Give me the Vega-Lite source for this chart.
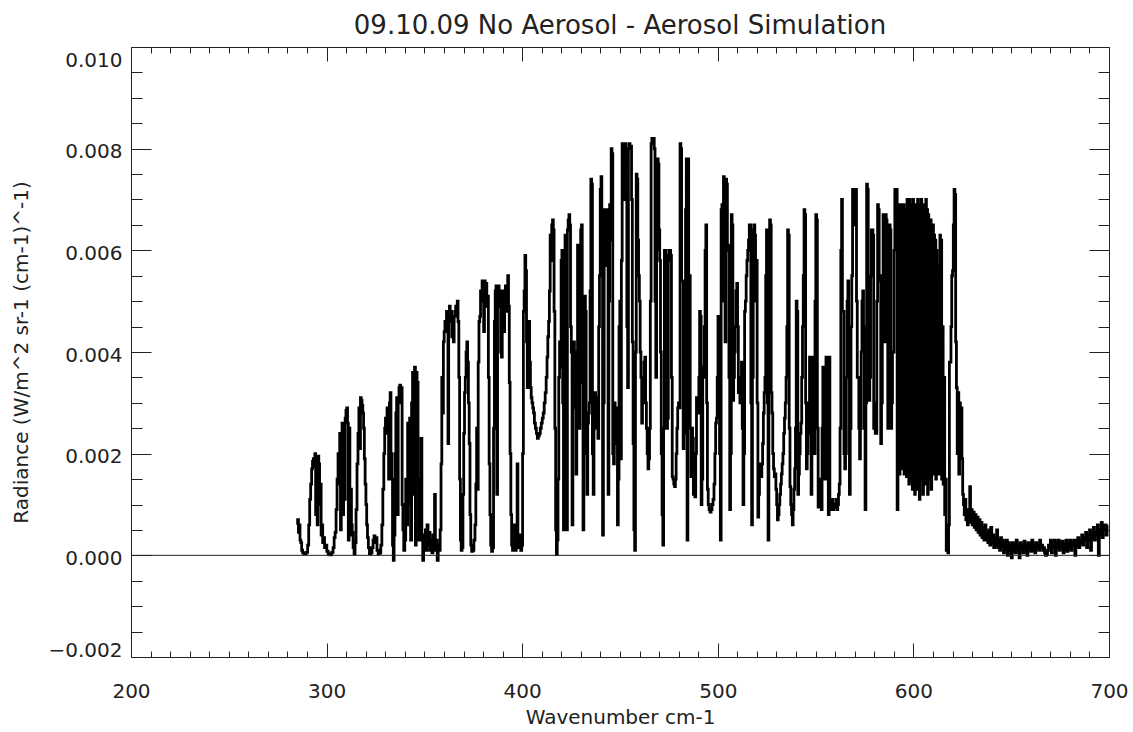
{
"$schema": "https://vega.github.io/schema/vega-lite/v6.json",
"width": 978, "height": 610,
"autosize": "none",
"padding": {"left": 131, "top": 47, "right": 24, "bottom": 75},
"background": "white",
"title": {"text": "09.10.09 No Aerosol - Aerosol Simulation", "fontSize": 26, "font": "DejaVu Sans", "fontWeight": "normal", "color": "#222", "offset": 8, "frame": "group", "anchor": "middle"},
"config": {
 "view": {"stroke": "#222", "strokeWidth": 1},
 "axis": {"grid": false, "domain": false, "labelFont": "DejaVu Sans", "titleFont": "DejaVu Sans", "labelFontSize": 20, "titleFontSize": 20, "titleFontWeight": "normal", "labelColor": "#222", "titleColor": "#222", "tickColor": "#222", "tickWidth": 1}
},
"datasets": {"spec": [
{"wn":285.0,"rad":0.0006},{"wn":285.4,"rad":0.0007},{"wn":285.8,"rad":0.00045},{"wn":286.2,"rad":0.0006},{"wn":286.6,"rad":0.0003},{"wn":287.0,"rad":0.00025},{"wn":287.5,"rad":0.0001},{"wn":288.0,"rad":0.00005},{"wn":289.0,"rad":0.00003},{"wn":290.0,"rad":0.00006},{"wn":290.6,"rad":0.0002},{"wn":291.1,"rad":0.0006},{"wn":291.6,"rad":0.0011},{"wn":292.1,"rad":0.0014},{"wn":292.6,"rad":0.0017},{"wn":293.0,"rad":0.00185},{"wn":293.4,"rad":0.0019},{"wn":293.8,"rad":0.00175},{"wn":294.2,"rad":0.002},{"wn":294.6,"rad":0.0008},{"wn":295.0,"rad":0.0019},{"wn":295.4,"rad":0.0006},{"wn":295.8,"rad":0.00195},{"wn":296.2,"rad":0.0018},{"wn":296.6,"rad":0.001},{"wn":297.0,"rad":0.0014},{"wn":297.4,"rad":0.0004},{"wn":297.8,"rad":0.0006},{"wn":298.2,"rad":0.00025},{"wn":298.7,"rad":0.00035},{"wn":299.2,"rad":0.00015},{"wn":299.8,"rad":0.0002},{"wn":300.4,"rad":0.00008},{"wn":301.2,"rad":0.00003},{"wn":302.2,"rad":0.00001},{"wn":303.0,"rad":0.00006},{"wn":303.6,"rad":0.00015},{"wn":304.1,"rad":0.00035},{"wn":304.6,"rad":0.00045},{"wn":305.1,"rad":0.0009},{"wn":305.6,"rad":0.0015},{"wn":306.1,"rad":0.002},{"wn":306.5,"rad":0.0014},{"wn":306.9,"rad":0.0024},{"wn":307.3,"rad":0.0005},{"wn":307.7,"rad":0.0022},{"wn":308.1,"rad":0.0026},{"wn":308.5,"rad":0.0008},{"wn":308.9,"rad":0.0025},{"wn":309.3,"rad":0.0011},{"wn":309.7,"rad":0.0027},{"wn":310.1,"rad":0.00285},{"wn":310.5,"rad":0.0029},{"wn":310.9,"rad":0.0026},{"wn":311.3,"rad":0.0003},{"wn":311.7,"rad":0.0025},{"wn":312.1,"rad":0.0004},{"wn":312.5,"rad":0.0013},{"wn":312.9,"rad":0.0006},{"wn":313.3,"rad":0.00045},{"wn":313.8,"rad":0.00015},{"wn":314.3,"rad":0.00003},{"wn":314.8,"rad":0.00025},{"wn":315.3,"rad":0.0009},{"wn":315.8,"rad":0.0018},{"wn":316.3,"rad":0.0024},{"wn":316.7,"rad":0.0029},{"wn":317.1,"rad":0.0021},{"wn":317.5,"rad":0.0031},{"wn":317.9,"rad":0.00305},{"wn":318.3,"rad":0.00295},{"wn":318.7,"rad":0.0028},{"wn":319.1,"rad":0.0025},{"wn":319.5,"rad":0.0019},{"wn":319.9,"rad":0.0014},{"wn":320.3,"rad":0.001},{"wn":320.7,"rad":0.0006},{"wn":321.1,"rad":0.00035},{"wn":321.6,"rad":0.00015},{"wn":322.2,"rad":0.00003},{"wn":322.9,"rad":0.00005},{"wn":323.5,"rad":0.00015},{"wn":324.0,"rad":0.0003},{"wn":324.5,"rad":0.00038},{"wn":325.0,"rad":0.00025},{"wn":325.5,"rad":0.00035},{"wn":326.0,"rad":0.0001},{"wn":326.7,"rad":0.00003},{"wn":327.4,"rad":0.00005},{"wn":328.0,"rad":0.0002},{"wn":328.5,"rad":0.0006},{"wn":329.0,"rad":0.0013},{"wn":329.5,"rad":0.002},{"wn":329.9,"rad":0.0025},{"wn":330.3,"rad":0.0027},{"wn":330.7,"rad":0.0024},{"wn":331.1,"rad":0.0029},{"wn":331.5,"rad":0.0027},{"wn":331.9,"rad":0.0015},{"wn":332.3,"rad":0.003},{"wn":332.7,"rad":0.0032},{"wn":333.1,"rad":0.002},{"wn":333.5,"rad":0.0015},{"wn":333.9,"rad":0.0002},{"wn":334.3,"rad":-0.0001},{"wn":334.7,"rad":0.0004},{"wn":335.2,"rad":0.002},{"wn":335.6,"rad":0.0028},{"wn":336.0,"rad":0.0031},{"wn":336.4,"rad":0.0008},{"wn":336.8,"rad":0.003},{"wn":337.2,"rad":0.0033},{"wn":337.6,"rad":0.00335},{"wn":338.0,"rad":0.003},{"wn":338.4,"rad":0.0033},{"wn":338.8,"rad":0.001},{"wn":339.2,"rad":0.0005},{"wn":339.7,"rad":0.0001},{"wn":340.2,"rad":0.0003},{"wn":340.7,"rad":0.0015},{"wn":341.2,"rad":0.0006},{"wn":341.7,"rad":0.0026},{"wn":342.2,"rad":0.001},{"wn":342.7,"rad":0.0027},{"wn":343.2,"rad":0.0003},{"wn":343.7,"rad":0.003},{"wn":344.2,"rad":0.0036},{"wn":344.7,"rad":0.0012},{"wn":345.2,"rad":0.0037},{"wn":345.6,"rad":0.0002},{"wn":346.0,"rad":0.0036},{"wn":346.5,"rad":0.0034},{"wn":347.0,"rad":0.0015},{"wn":347.5,"rad":0.0003},{"wn":348.0,"rad":0.0008},{"wn":348.5,"rad":0.0023},{"wn":348.9,"rad":0.0004},{"wn":349.4,"rad":-0.0001},{"wn":349.8,"rad":0.0003},{"wn":350.3,"rad":0.00015},{"wn":350.7,"rad":0.0005},{"wn":351.1,"rad":0.0001},{"wn":351.6,"rad":0.0006},{"wn":352.1,"rad":0.0002},{"wn":352.6,"rad":0.00045},{"wn":353.1,"rad":0.0001},{"wn":353.6,"rad":0.0003},{"wn":354.1,"rad":0.00005},{"wn":354.6,"rad":0.0004},{"wn":355.0,"rad":0.0002},{"wn":355.4,"rad":0.0012},{"wn":355.8,"rad":0.0001},{"wn":356.3,"rad":0.0003},{"wn":356.8,"rad":-0.0001},{"wn":357.3,"rad":0.0002},{"wn":357.8,"rad":0.0001},{"wn":358.3,"rad":0.0005},{"wn":358.7,"rad":0.0018},{"wn":359.1,"rad":0.0035},{"wn":359.5,"rad":0.0028},{"wn":359.9,"rad":0.0042},{"wn":360.3,"rad":0.0044},{"wn":360.7,"rad":0.0046},{"wn":361.1,"rad":0.0044},{"wn":361.5,"rad":0.0048},{"wn":361.9,"rad":0.0045},{"wn":362.2,"rad":0.0022},{"wn":362.6,"rad":0.0048},{"wn":363.0,"rad":0.0049},{"wn":363.4,"rad":0.0046},{"wn":363.8,"rad":0.0048},{"wn":364.2,"rad":0.0043},{"wn":364.6,"rad":0.0046},{"wn":365.0,"rad":0.0042},{"wn":365.4,"rad":0.0047},{"wn":365.8,"rad":0.0048},{"wn":366.2,"rad":0.0049},{"wn":366.6,"rad":0.0047},{"wn":367.0,"rad":0.005},{"wn":367.4,"rad":0.0046},{"wn":367.8,"rad":0.0035},{"wn":368.2,"rad":0.0015},{"wn":368.6,"rad":0.0003},{"wn":369.0,"rad":0.0001},{"wn":369.5,"rad":0.00015},{"wn":369.9,"rad":0.0012},{"wn":370.3,"rad":0.0024},{"wn":370.7,"rad":0.0032},{"wn":371.1,"rad":0.0035},{"wn":371.5,"rad":0.004},{"wn":371.9,"rad":0.0042},{"wn":372.3,"rad":0.0038},{"wn":372.7,"rad":0.003},{"wn":373.1,"rad":0.0022},{"wn":373.5,"rad":0.0008},{"wn":373.9,"rad":0.0002},{"wn":374.4,"rad":0.00008},{"wn":375.0,"rad":0.0001},{"wn":375.6,"rad":0.0003},{"wn":376.1,"rad":0.0006},{"wn":376.5,"rad":0.0014},{"wn":376.9,"rad":0.0025},{"wn":377.3,"rad":0.0013},{"wn":377.7,"rad":0.0038},{"wn":378.1,"rad":0.0046},{"wn":378.5,"rad":0.0047},{"wn":378.9,"rad":0.0052},{"wn":379.3,"rad":0.005},{"wn":379.7,"rad":0.0054},{"wn":380.1,"rad":0.0053},{"wn":380.5,"rad":0.0044},{"wn":380.9,"rad":0.0054},{"wn":381.3,"rad":0.0053},{"wn":381.7,"rad":0.00535},{"wn":382.1,"rad":0.0049},{"wn":382.5,"rad":0.0051},{"wn":382.9,"rad":0.0035},{"wn":383.3,"rad":0.0018},{"wn":383.7,"rad":0.0008},{"wn":384.1,"rad":0.0002},{"wn":384.6,"rad":0.00008},{"wn":385.1,"rad":0.00015},{"wn":385.6,"rad":0.0025},{"wn":386.0,"rad":0.0046},{"wn":386.4,"rad":0.0052},{"wn":386.8,"rad":0.0053},{"wn":387.2,"rad":0.0012},{"wn":387.6,"rad":0.0051},{"wn":388.0,"rad":0.0053},{"wn":388.4,"rad":0.0049},{"wn":388.8,"rad":0.0052},{"wn":389.2,"rad":0.004},{"wn":389.6,"rad":0.0039},{"wn":390.0,"rad":0.005},{"wn":390.4,"rad":0.0052},{"wn":390.8,"rad":0.0044},{"wn":391.2,"rad":0.0051},{"wn":391.6,"rad":0.0053},{"wn":392.0,"rad":0.0048},{"wn":392.4,"rad":0.0053},{"wn":392.8,"rad":0.0055},{"wn":393.2,"rad":0.0049},{"wn":393.6,"rad":0.0034},{"wn":394.0,"rad":0.002},{"wn":394.4,"rad":0.0008},{"wn":394.8,"rad":0.0002},{"wn":395.3,"rad":0.0001},{"wn":395.8,"rad":0.0002},{"wn":396.3,"rad":0.0006},{"wn":396.7,"rad":0.0001},{"wn":397.2,"rad":0.0003},{"wn":397.6,"rad":0.0018},{"wn":398.0,"rad":0.0002},{"wn":398.5,"rad":0.00015},{"wn":399.0,"rad":0.0004},{"wn":399.5,"rad":0.0001},{"wn":400.0,"rad":0.0002},{"wn":400.4,"rad":0.002},{"wn":400.8,"rad":0.0048},{"wn":401.2,"rad":0.0052},{"wn":401.6,"rad":0.0059},{"wn":402.0,"rad":0.0056},{"wn":402.4,"rad":0.0042},{"wn":402.8,"rad":0.0033},{"wn":403.2,"rad":0.004},{"wn":403.6,"rad":0.0046},{"wn":404.0,"rad":0.0038},{"wn":404.4,"rad":0.0033},{"wn":404.8,"rad":0.0031},{"wn":405.2,"rad":0.003},{"wn":405.6,"rad":0.0029},{"wn":406.0,"rad":0.0028},{"wn":406.5,"rad":0.0026},{"wn":407.0,"rad":0.0025},{"wn":407.5,"rad":0.0024},{"wn":408.0,"rad":0.0023},{"wn":408.5,"rad":0.00235},{"wn":409.0,"rad":0.0024},{"wn":409.5,"rad":0.0025},{"wn":410.0,"rad":0.0026},{"wn":410.5,"rad":0.0027},{"wn":411.0,"rad":0.0028},{"wn":411.5,"rad":0.003},{"wn":412.0,"rad":0.0032},{"wn":412.5,"rad":0.0035},{"wn":412.9,"rad":0.0039},{"wn":413.3,"rad":0.0043},{"wn":413.7,"rad":0.0046},{"wn":414.1,"rad":0.0052},{"wn":414.5,"rad":0.0063},{"wn":414.9,"rad":0.0058},{"wn":415.3,"rad":0.0065},{"wn":415.7,"rad":0.0066},{"wn":416.1,"rad":0.0064},{"wn":416.5,"rad":0.0048},{"wn":416.9,"rad":0.0025},{"wn":417.3,"rad":0.0005},{"wn":417.7,"rad":0.00002},{"wn":418.1,"rad":0.0003},{"wn":418.5,"rad":0.0015},{"wn":418.9,"rad":0.0035},{"wn":419.3,"rad":0.0042},{"wn":419.7,"rad":0.0037},{"wn":420.1,"rad":0.0058},{"wn":420.5,"rad":0.006},{"wn":420.9,"rad":0.003},{"wn":421.3,"rad":0.0005},{"wn":421.7,"rad":0.0059},{"wn":422.1,"rad":0.0063},{"wn":422.5,"rad":0.0062},{"wn":422.9,"rad":0.0005},{"wn":423.3,"rad":0.0064},{"wn":423.7,"rad":0.0066},{"wn":424.1,"rad":0.0067},{"wn":424.5,"rad":0.0065},{"wn":424.9,"rad":0.0045},{"wn":425.3,"rad":0.004},{"wn":425.7,"rad":0.0006},{"wn":426.1,"rad":0.0038},{"wn":426.5,"rad":0.0042},{"wn":426.9,"rad":0.0039},{"wn":427.3,"rad":0.0029},{"wn":427.7,"rad":0.0016},{"wn":428.1,"rad":0.004},{"wn":428.5,"rad":0.0061},{"wn":428.9,"rad":0.0059},{"wn":429.3,"rad":0.0025},{"wn":429.7,"rad":0.006},{"wn":430.1,"rad":0.0064},{"wn":430.5,"rad":0.0065},{"wn":430.9,"rad":0.0034},{"wn":431.3,"rad":0.0005},{"wn":431.7,"rad":0.002},{"wn":432.1,"rad":0.0051},{"wn":432.5,"rad":0.0048},{"wn":432.9,"rad":0.0024},{"wn":433.3,"rad":0.0012},{"wn":433.7,"rad":0.0026},{"wn":434.1,"rad":0.0028},{"wn":434.5,"rad":0.003},{"wn":434.9,"rad":0.0052},{"wn":435.3,"rad":0.0074},{"wn":435.7,"rad":0.0073},{"wn":436.1,"rad":0.002},{"wn":436.5,"rad":0.0012},{"wn":436.9,"rad":0.0025},{"wn":437.3,"rad":0.0032},{"wn":437.7,"rad":0.0031},{"wn":438.1,"rad":0.0028},{"wn":438.5,"rad":0.0025},{"wn":438.9,"rad":0.0023},{"wn":439.3,"rad":0.0045},{"wn":439.7,"rad":0.0055},{"wn":440.1,"rad":0.0072},{"wn":440.5,"rad":0.00745},{"wn":440.9,"rad":0.0068},{"wn":441.3,"rad":0.0004},{"wn":441.7,"rad":0.003},{"wn":442.1,"rad":0.0068},{"wn":442.5,"rad":0.0067},{"wn":442.9,"rad":0.0057},{"wn":443.3,"rad":0.0068},{"wn":443.7,"rad":0.0068},{"wn":444.1,"rad":0.0012},{"wn":444.5,"rad":0.005},{"wn":444.9,"rad":0.0069},{"wn":445.3,"rad":0.0062},{"wn":445.7,"rad":0.008},{"wn":446.1,"rad":0.0079},{"wn":446.5,"rad":0.002},{"wn":446.9,"rad":0.0018},{"wn":447.3,"rad":0.003},{"wn":447.7,"rad":0.0027},{"wn":448.1,"rad":0.0029},{"wn":448.5,"rad":0.0022},{"wn":448.9,"rad":0.0006},{"wn":449.3,"rad":0.0015},{"wn":449.7,"rad":0.0045},{"wn":450.1,"rad":0.005},{"wn":450.5,"rad":0.0019},{"wn":450.9,"rad":0.0058},{"wn":451.3,"rad":0.0081},{"wn":451.7,"rad":0.0081},{"wn":452.1,"rad":0.007},{"wn":452.5,"rad":0.0081},{"wn":452.9,"rad":0.0081},{"wn":453.3,"rad":0.0079},{"wn":453.7,"rad":0.0045},{"wn":454.1,"rad":0.0033},{"wn":454.5,"rad":0.008},{"wn":454.9,"rad":0.0081},{"wn":455.3,"rad":0.008},{"wn":455.7,"rad":0.00805},{"wn":456.1,"rad":0.007},{"wn":456.5,"rad":0.0042},{"wn":456.9,"rad":0.0022},{"wn":457.3,"rad":0.0005},{"wn":457.7,"rad":0.0001},{"wn":458.1,"rad":0.004},{"wn":458.5,"rad":0.0075},{"wn":458.9,"rad":0.0074},{"wn":459.3,"rad":0.0062},{"wn":459.7,"rad":0.0055},{"wn":460.1,"rad":0.005},{"wn":460.5,"rad":0.004},{"wn":460.9,"rad":0.0035},{"wn":461.3,"rad":0.0026},{"wn":461.7,"rad":0.003},{"wn":462.1,"rad":0.0033},{"wn":462.5,"rad":0.0038},{"wn":462.9,"rad":0.0039},{"wn":463.3,"rad":0.003},{"wn":463.7,"rad":0.0025},{"wn":464.1,"rad":0.002},{"wn":464.5,"rad":0.0017},{"wn":464.9,"rad":0.0019},{"wn":465.3,"rad":0.0025},{"wn":465.7,"rad":0.005},{"wn":466.1,"rad":0.0081},{"wn":466.5,"rad":0.0082},{"wn":466.9,"rad":0.0081},{"wn":467.3,"rad":0.0082},{"wn":467.7,"rad":0.008},{"wn":468.1,"rad":0.005},{"wn":468.5,"rad":0.0035},{"wn":468.9,"rad":0.006},{"wn":469.3,"rad":0.0078},{"wn":469.7,"rad":0.0077},{"wn":470.1,"rad":0.0064},{"wn":470.5,"rad":0.0058},{"wn":470.9,"rad":0.004},{"wn":471.3,"rad":0.002},{"wn":471.7,"rad":0.0008},{"wn":472.1,"rad":0.0002},{"wn":472.5,"rad":0.0025},{"wn":472.9,"rad":0.006},{"wn":473.3,"rad":0.006},{"wn":473.7,"rad":0.0059},{"wn":474.1,"rad":0.0025},{"wn":474.5,"rad":0.0027},{"wn":474.9,"rad":0.0058},{"wn":475.3,"rad":0.006},{"wn":475.7,"rad":0.006},{"wn":476.1,"rad":0.0059},{"wn":476.5,"rad":0.0035},{"wn":476.9,"rad":0.00155},{"wn":477.3,"rad":0.0015},{"wn":477.7,"rad":0.0014},{"wn":478.1,"rad":0.00135},{"wn":478.5,"rad":0.0015},{"wn":478.9,"rad":0.002},{"wn":479.3,"rad":0.0025},{"wn":479.7,"rad":0.0029},{"wn":480.1,"rad":0.003},{"wn":480.5,"rad":0.0029},{"wn":480.9,"rad":0.0081},{"wn":481.3,"rad":0.008},{"wn":481.7,"rad":0.0054},{"wn":482.1,"rad":0.0054},{"wn":482.5,"rad":0.0021},{"wn":482.9,"rad":0.0024},{"wn":483.3,"rad":0.004},{"wn":483.7,"rad":0.0068},{"wn":484.1,"rad":0.0078},{"wn":484.5,"rad":0.0003},{"wn":484.9,"rad":0.0078},{"wn":485.3,"rad":0.005},{"wn":485.7,"rad":0.0055},{"wn":486.1,"rad":0.0025},{"wn":486.5,"rad":0.00155},{"wn":486.9,"rad":0.0025},{"wn":487.3,"rad":0.0023},{"wn":487.7,"rad":0.0012},{"wn":488.1,"rad":0.0013},{"wn":488.5,"rad":0.00115},{"wn":488.9,"rad":0.002},{"wn":489.3,"rad":0.0031},{"wn":489.7,"rad":0.003},{"wn":490.1,"rad":0.0028},{"wn":490.5,"rad":0.0035},{"wn":490.9,"rad":0.0048},{"wn":491.3,"rad":0.0047},{"wn":491.7,"rad":0.001},{"wn":492.1,"rad":0.0015},{"wn":492.5,"rad":0.0037},{"wn":492.9,"rad":0.0035},{"wn":493.3,"rad":0.0045},{"wn":493.7,"rad":0.006},{"wn":494.1,"rad":0.0065},{"wn":494.5,"rad":0.003},{"wn":494.9,"rad":0.0013},{"wn":495.3,"rad":0.001},{"wn":495.8,"rad":0.0009},{"wn":496.3,"rad":0.00085},{"wn":496.8,"rad":0.0009},{"wn":497.3,"rad":0.001},{"wn":497.8,"rad":0.0011},{"wn":498.3,"rad":0.0014},{"wn":498.7,"rad":0.002},{"wn":499.1,"rad":0.0026},{"wn":499.5,"rad":0.0027},{"wn":499.9,"rad":0.0035},{"wn":500.3,"rad":0.0047},{"wn":500.7,"rad":0.004},{"wn":501.1,"rad":0.002},{"wn":501.5,"rad":0.0003},{"wn":501.9,"rad":0.0068},{"wn":502.3,"rad":0.0069},{"wn":502.7,"rad":0.005},{"wn":503.1,"rad":0.00745},{"wn":503.5,"rad":0.0074},{"wn":503.9,"rad":0.0042},{"wn":504.3,"rad":0.0074},{"wn":504.7,"rad":0.0073},{"wn":505.1,"rad":0.006},{"wn":505.5,"rad":0.0061},{"wn":505.9,"rad":0.0035},{"wn":506.3,"rad":0.0009},{"wn":506.7,"rad":0.002},{"wn":507.1,"rad":0.0067},{"wn":507.5,"rad":0.0065},{"wn":507.9,"rad":0.00305},{"wn":508.3,"rad":0.0035},{"wn":508.7,"rad":0.004},{"wn":509.1,"rad":0.0045},{"wn":509.5,"rad":0.0052},{"wn":509.9,"rad":0.00535},{"wn":510.3,"rad":0.0045},{"wn":510.7,"rad":0.0032},{"wn":511.1,"rad":0.0033},{"wn":511.5,"rad":0.003},{"wn":511.9,"rad":0.0035},{"wn":512.3,"rad":0.0038},{"wn":512.7,"rad":0.0025},{"wn":513.1,"rad":0.001},{"wn":513.5,"rad":0.002},{"wn":513.9,"rad":0.0048},{"wn":514.3,"rad":0.005},{"wn":514.7,"rad":0.0055},{"wn":515.1,"rad":0.0058},{"wn":515.5,"rad":0.006},{"wn":515.9,"rad":0.0062},{"wn":516.3,"rad":0.0065},{"wn":516.7,"rad":0.0065},{"wn":517.1,"rad":0.003},{"wn":517.5,"rad":0.0006},{"wn":517.9,"rad":0.0035},{"wn":518.3,"rad":0.0064},{"wn":518.7,"rad":0.0065},{"wn":519.1,"rad":0.0063},{"wn":519.5,"rad":0.005},{"wn":519.9,"rad":0.0058},{"wn":520.3,"rad":0.003},{"wn":520.7,"rad":0.00075},{"wn":521.1,"rad":0.0012},{"wn":521.5,"rad":0.0018},{"wn":521.9,"rad":0.0016},{"wn":522.3,"rad":0.00155},{"wn":522.7,"rad":0.0018},{"wn":523.1,"rad":0.0022},{"wn":523.5,"rad":0.0028},{"wn":523.9,"rad":0.0032},{"wn":524.3,"rad":0.0035},{"wn":524.7,"rad":0.0055},{"wn":525.1,"rad":0.0064},{"wn":525.5,"rad":0.003},{"wn":525.9,"rad":0.0003},{"wn":526.3,"rad":0.004},{"wn":526.7,"rad":0.0066},{"wn":527.1,"rad":0.0065},{"wn":527.5,"rad":0.0032},{"wn":527.9,"rad":0.0028},{"wn":528.3,"rad":0.002},{"wn":528.7,"rad":0.0017},{"wn":529.1,"rad":0.00155},{"wn":529.5,"rad":0.0016},{"wn":529.9,"rad":0.0013},{"wn":530.3,"rad":0.001},{"wn":530.7,"rad":0.0007},{"wn":531.1,"rad":0.0008},{"wn":531.5,"rad":0.001},{"wn":531.9,"rad":0.0012},{"wn":532.3,"rad":0.0014},{"wn":532.7,"rad":0.0016},{"wn":533.1,"rad":0.0018},{"wn":533.5,"rad":0.002},{"wn":533.9,"rad":0.0024},{"wn":534.3,"rad":0.0027},{"wn":534.7,"rad":0.003},{"wn":535.1,"rad":0.0035},{"wn":535.5,"rad":0.0045},{"wn":535.9,"rad":0.0064},{"wn":536.3,"rad":0.0063},{"wn":536.7,"rad":0.0025},{"wn":537.1,"rad":0.00135},{"wn":537.5,"rad":0.001},{"wn":537.9,"rad":0.0008},{"wn":538.3,"rad":0.0006},{"wn":538.7,"rad":0.0009},{"wn":539.1,"rad":0.0013},{"wn":539.5,"rad":0.0017},{"wn":539.9,"rad":0.0025},{"wn":540.3,"rad":0.005},{"wn":540.7,"rad":0.0048},{"wn":541.1,"rad":0.0012},{"wn":541.5,"rad":0.0016},{"wn":541.9,"rad":0.002},{"wn":542.3,"rad":0.0024},{"wn":542.7,"rad":0.0026},{"wn":543.1,"rad":0.0035},{"wn":543.5,"rad":0.0045},{"wn":543.9,"rad":0.0055},{"wn":544.3,"rad":0.0068},{"wn":544.7,"rad":0.0067},{"wn":545.1,"rad":0.003},{"wn":545.5,"rad":0.0017},{"wn":545.9,"rad":0.002},{"wn":546.3,"rad":0.0024},{"wn":546.7,"rad":0.003},{"wn":547.1,"rad":0.0039},{"wn":547.5,"rad":0.0038},{"wn":547.9,"rad":0.0012},{"wn":548.3,"rad":0.0035},{"wn":548.7,"rad":0.0039},{"wn":549.1,"rad":0.003},{"wn":549.5,"rad":0.002},{"wn":549.9,"rad":0.005},{"wn":550.3,"rad":0.0067},{"wn":550.7,"rad":0.0066},{"wn":551.1,"rad":0.0025},{"wn":551.5,"rad":0.00095},{"wn":551.9,"rad":0.0013},{"wn":552.3,"rad":0.0015},{"wn":552.7,"rad":0.001},{"wn":553.1,"rad":0.0009},{"wn":553.5,"rad":0.0025},{"wn":553.9,"rad":0.0037},{"wn":554.3,"rad":0.0036},{"wn":554.7,"rad":0.0015},{"wn":555.1,"rad":0.003},{"wn":555.5,"rad":0.0039},{"wn":555.9,"rad":0.0038},{"wn":556.3,"rad":0.0015},{"wn":556.7,"rad":0.0008},{"wn":557.1,"rad":0.0039},{"wn":557.5,"rad":0.001},{"wn":557.9,"rad":0.0009},{"wn":558.3,"rad":0.001},{"wn":558.7,"rad":0.0011},{"wn":559.1,"rad":0.0009},{"wn":559.5,"rad":0.001},{"wn":559.9,"rad":0.00095},{"wn":560.3,"rad":0.001},{"wn":560.7,"rad":0.0011},{"wn":561.1,"rad":0.0009},{"wn":561.5,"rad":0.001},{"wn":561.9,"rad":0.0012},{"wn":562.3,"rad":0.0014},{"wn":562.7,"rad":0.0025},{"wn":563.1,"rad":0.006},{"wn":563.5,"rad":0.007},{"wn":563.9,"rad":0.0048},{"wn":564.3,"rad":0.0048},{"wn":564.7,"rad":0.002},{"wn":565.1,"rad":0.0017},{"wn":565.5,"rad":0.002},{"wn":565.9,"rad":0.0035},{"wn":566.3,"rad":0.005},{"wn":566.7,"rad":0.0054},{"wn":567.1,"rad":0.004},{"wn":567.5,"rad":0.0012},{"wn":567.9,"rad":0.0025},{"wn":568.3,"rad":0.0045},{"wn":568.7,"rad":0.0055},{"wn":569.1,"rad":0.0072},{"wn":569.5,"rad":0.0072},{"wn":569.9,"rad":0.0065},{"wn":570.3,"rad":0.0071},{"wn":570.7,"rad":0.0072},{"wn":571.1,"rad":0.005},{"wn":571.5,"rad":0.0035},{"wn":571.9,"rad":0.0035},{"wn":572.3,"rad":0.0025},{"wn":572.7,"rad":0.0019},{"wn":573.1,"rad":0.0025},{"wn":573.5,"rad":0.004},{"wn":573.9,"rad":0.005},{"wn":574.3,"rad":0.0052},{"wn":574.7,"rad":0.0045},{"wn":575.1,"rad":0.0025},{"wn":575.5,"rad":0.0009},{"wn":575.9,"rad":0.003},{"wn":576.3,"rad":0.0073},{"wn":576.7,"rad":0.0072},{"wn":577.1,"rad":0.0055},{"wn":577.5,"rad":0.00305},{"wn":577.9,"rad":0.0035},{"wn":578.3,"rad":0.0055},{"wn":578.7,"rad":0.0064},{"wn":579.1,"rad":0.0064},{"wn":579.5,"rad":0.0063},{"wn":579.9,"rad":0.0025},{"wn":580.3,"rad":0.003},{"wn":580.7,"rad":0.0024},{"wn":581.1,"rad":0.0024},{"wn":581.5,"rad":0.005},{"wn":581.9,"rad":0.0069},{"wn":582.3,"rad":0.0068},{"wn":582.7,"rad":0.0055},{"wn":583.1,"rad":0.0054},{"wn":583.5,"rad":0.0022},{"wn":583.9,"rad":0.003},{"wn":584.3,"rad":0.0055},{"wn":584.7,"rad":0.0067},{"wn":585.1,"rad":0.0066},{"wn":585.5,"rad":0.0042},{"wn":585.9,"rad":0.0067},{"wn":586.3,"rad":0.0066},{"wn":586.7,"rad":0.0045},{"wn":587.1,"rad":0.0025},{"wn":587.5,"rad":0.0045},{"wn":587.9,"rad":0.0065},{"wn":588.3,"rad":0.0064},{"wn":588.7,"rad":0.0025},{"wn":589.1,"rad":0.003},{"wn":589.5,"rad":0.004},{"wn":589.9,"rad":0.004},{"wn":590.3,"rad":0.006},{"wn":590.7,"rad":0.0072},{"wn":591.1,"rad":0.0071},{"wn":591.5,"rad":0.0072},{"wn":591.9,"rad":0.0009},{"wn":592.3,"rad":0.002},
{"wn":592.7,"rad":0.0069},{"wn":593.0,"rad":0.0016},{"wn":593.3,"rad":0.0065},{"wn":593.6,"rad":0.0025},{"wn":593.9,"rad":0.0069},{"wn":594.2,"rad":0.0017},{"wn":594.5,"rad":0.006},{"wn":594.8,"rad":0.003},{"wn":595.1,"rad":0.0069},{"wn":595.4,"rad":0.0016},{"wn":595.7,"rad":0.0068},{"wn":596.0,"rad":0.0022},{"wn":596.3,"rad":0.0064},{"wn":596.6,"rad":0.00155},{"wn":596.9,"rad":0.007},{"wn":597.2,"rad":0.002},{"wn":597.5,"rad":0.0069},{"wn":597.8,"rad":0.0014},{"wn":598.1,"rad":0.007},{"wn":598.4,"rad":0.0025},{"wn":598.7,"rad":0.0067},{"wn":599.0,"rad":0.0015},{"wn":599.3,"rad":0.0069},{"wn":599.6,"rad":0.0013},{"wn":599.9,"rad":0.007},{"wn":600.2,"rad":0.002},{"wn":600.5,"rad":0.0068},{"wn":600.8,"rad":0.0012},{"wn":601.1,"rad":0.0069},{"wn":601.4,"rad":0.0022},{"wn":601.7,"rad":0.0066},{"wn":602.0,"rad":0.0013},{"wn":602.3,"rad":0.007},{"wn":602.6,"rad":0.0018},{"wn":602.9,"rad":0.0069},{"wn":603.2,"rad":0.0011},{"wn":603.5,"rad":0.0068},{"wn":603.8,"rad":0.0024},{"wn":604.1,"rad":0.007},{"wn":604.4,"rad":0.0015},{"wn":604.7,"rad":0.0067},{"wn":605.0,"rad":0.0012},{"wn":605.3,"rad":0.0069},{"wn":605.6,"rad":0.002},{"wn":605.9,"rad":0.0066},{"wn":606.2,"rad":0.0014},{"wn":606.5,"rad":0.007},{"wn":606.8,"rad":0.0019},{"wn":607.1,"rad":0.0068},{"wn":607.4,"rad":0.0012},{"wn":607.7,"rad":0.0067},{"wn":608.0,"rad":0.0021},{"wn":608.3,"rad":0.0065},{"wn":608.6,"rad":0.0015},{"wn":608.9,"rad":0.0066},{"wn":609.2,"rad":0.0013},{"wn":609.5,"rad":0.0064},{"wn":609.8,"rad":0.0022},{"wn":610.1,"rad":0.0065},{"wn":610.4,"rad":0.0016},{"wn":610.7,"rad":0.0063},{"wn":611.0,"rad":0.002},{"wn":611.3,"rad":0.0062},{"wn":611.6,"rad":0.0015},{"wn":611.9,"rad":0.006},{"wn":612.2,"rad":0.0023},{"wn":612.5,"rad":0.0057},{"wn":612.8,"rad":0.0016},{"wn":613.1,"rad":0.0056},{"wn":613.4,"rad":0.0019},{"wn":613.7,"rad":0.0063},{"wn":614.0,"rad":0.0016},{"wn":614.3,"rad":0.0062},{"wn":614.6,"rad":0.0015},{"wn":615.0,"rad":0.0045},{"wn":615.4,"rad":0.0014},{"wn":615.8,"rad":0.0035},{"wn":616.2,"rad":0.0008},{"wn":616.6,"rad":0.0015},{"wn":617.0,"rad":0.0001},{"wn":617.4,"rad":0.0005},{"wn":617.8,"rad":0.00005},{"wn":618.2,"rad":0.0006},{"wn":618.6,"rad":0.0038},{"wn":619.0,"rad":0.0038},{"wn":619.4,"rad":0.0045},{"wn":619.8,"rad":0.0055},{"wn":620.2,"rad":0.0056},{"wn":620.6,"rad":0.0065},{"wn":621.0,"rad":0.0072},{"wn":621.4,"rad":0.0071},{"wn":621.8,"rad":0.0042},{"wn":622.2,"rad":0.0033},{"wn":622.6,"rad":0.002},{"wn":623.0,"rad":0.0032},{"wn":623.4,"rad":0.0016},{"wn":623.8,"rad":0.003},{"wn":624.2,"rad":0.0022},{"wn":624.6,"rad":0.0029},{"wn":625.0,"rad":0.0019},{"wn":625.4,"rad":0.0012},{"wn":625.8,"rad":0.001},{"wn":626.2,"rad":0.0008},{"wn":626.6,"rad":0.0011},{"wn":627.0,"rad":0.0007},{"wn":627.4,"rad":0.0009},{"wn":627.8,"rad":0.0006},{"wn":628.2,"rad":0.0008},{"wn":628.6,"rad":0.00065},{"wn":629.0,"rad":0.00135},{"wn":629.4,"rad":0.0007},{"wn":629.8,"rad":0.0009},{"wn":630.3,"rad":0.0006},{"wn":630.8,"rad":0.00085},{"wn":631.3,"rad":0.00055},{"wn":631.8,"rad":0.0008},{"wn":632.3,"rad":0.0005},{"wn":632.8,"rad":0.00075},{"wn":633.3,"rad":0.00045},{"wn":633.8,"rad":0.0007},{"wn":634.3,"rad":0.0004},{"wn":634.8,"rad":0.00065},{"wn":635.3,"rad":0.00035},{"wn":635.8,"rad":0.00055},{"wn":636.3,"rad":0.0003},{"wn":636.8,"rad":0.0006},{"wn":637.3,"rad":0.0003},{"wn":637.8,"rad":0.00045},{"wn":638.3,"rad":0.00025},{"wn":638.8,"rad":0.0005},{"wn":639.3,"rad":0.0002},{"wn":639.8,"rad":0.00055},{"wn":640.3,"rad":0.00025},{"wn":640.8,"rad":0.0004},{"wn":641.3,"rad":0.00015},{"wn":641.8,"rad":0.00035},{"wn":642.3,"rad":0.0002},{"wn":642.8,"rad":0.0005},{"wn":643.3,"rad":0.00015},{"wn":643.8,"rad":0.0003},{"wn":644.3,"rad":0.0001},{"wn":644.8,"rad":0.00035},{"wn":645.3,"rad":0.00015},{"wn":645.8,"rad":0.0003},{"wn":646.3,"rad":0.00005},{"wn":646.8,"rad":0.00025},{"wn":647.3,"rad":0.00012},{"wn":647.8,"rad":0.0003},{"wn":648.3,"rad":0.0},{"wn":648.8,"rad":0.00025},{"wn":649.3,"rad":0.0001},{"wn":649.8,"rad":0.0002},{"wn":650.3,"rad":-0.00005},{"wn":650.8,"rad":0.00025},{"wn":651.3,"rad":0.0001},{"wn":651.8,"rad":0.00022},{"wn":652.3,"rad":0.00005},{"wn":652.8,"rad":0.0003},{"wn":653.3,"rad":0.0001},{"wn":653.8,"rad":0.0002},{"wn":654.3,"rad":-0.00005},{"wn":654.8,"rad":0.00025},{"wn":655.3,"rad":0.00012},{"wn":655.8,"rad":0.0002},{"wn":656.3,"rad":0.00005},{"wn":656.8,"rad":0.00028},{"wn":657.3,"rad":0.0001},{"wn":657.8,"rad":0.0002},{"wn":658.3,"rad":0.0},{"wn":658.8,"rad":0.00025},{"wn":659.3,"rad":0.00012},{"wn":659.8,"rad":0.00022},{"wn":660.3,"rad":0.00008},{"wn":660.8,"rad":0.0003},{"wn":661.3,"rad":0.0001},{"wn":661.8,"rad":0.0002},{"wn":662.3,"rad":0.00005},{"wn":662.8,"rad":0.00025},{"wn":663.3,"rad":0.00015},{"wn":663.8,"rad":0.0002},{"wn":664.3,"rad":0.0001},{"wn":664.8,"rad":0.0003},{"wn":665.3,"rad":0.00015},{"wn":665.8,"rad":0.0002},{"wn":666.3,"rad":0.0001},{"wn":666.8,"rad":0.00015},{"wn":667.3,"rad":0.00005},{"wn":667.8,"rad":0.0},{"wn":668.3,"rad":0.00002},{"wn":668.8,"rad":0.0001},{"wn":669.3,"rad":0.0002},{"wn":669.8,"rad":0.00015},{"wn":670.3,"rad":0.0003},{"wn":670.8,"rad":0.00005},{"wn":671.3,"rad":0.00025},{"wn":671.8,"rad":0.00015},{"wn":672.3,"rad":0.0003},{"wn":672.8,"rad":0.0},{"wn":673.3,"rad":0.00025},{"wn":673.8,"rad":0.00015},{"wn":674.3,"rad":0.0003},{"wn":674.8,"rad":0.0001},{"wn":675.3,"rad":0.00025},{"wn":675.8,"rad":0.00015},{"wn":676.3,"rad":0.00028},{"wn":676.8,"rad":0.00005},{"wn":677.3,"rad":0.00022},{"wn":677.8,"rad":0.00012},{"wn":678.3,"rad":0.0003},{"wn":678.8,"rad":0.00008},{"wn":679.3,"rad":0.00025},{"wn":679.8,"rad":0.00015},{"wn":680.3,"rad":0.0003},{"wn":680.8,"rad":0.0001},{"wn":681.3,"rad":0.00025},{"wn":681.8,"rad":0.0002},{"wn":682.3,"rad":0.0003},{"wn":682.8,"rad":0.0},{"wn":683.3,"rad":0.0003},{"wn":683.8,"rad":0.0002},{"wn":684.3,"rad":0.00035},{"wn":684.8,"rad":0.00015},{"wn":685.3,"rad":0.0003},{"wn":685.8,"rad":0.00025},{"wn":686.3,"rad":0.0004},{"wn":686.8,"rad":0.0002},{"wn":687.3,"rad":0.00035},{"wn":687.8,"rad":0.0003},{"wn":688.3,"rad":0.00045},{"wn":688.8,"rad":0.00015},{"wn":689.3,"rad":0.0004},{"wn":689.8,"rad":0.0003},{"wn":690.3,"rad":0.0005},{"wn":690.8,"rad":0.0001},{"wn":691.3,"rad":0.0004},{"wn":691.8,"rad":0.00035},{"wn":692.3,"rad":0.00055},{"wn":692.8,"rad":0.0003},{"wn":693.3,"rad":0.00045},{"wn":693.8,"rad":0.0004},{"wn":694.3,"rad":0.0006},{"wn":694.8,"rad":0.0},{"wn":695.3,"rad":0.0005},{"wn":695.8,"rad":0.0004},{"wn":696.3,"rad":0.00065},{"wn":696.8,"rad":0.00035},{"wn":697.3,"rad":0.0006},{"wn":697.8,"rad":0.0005},{"wn":698.3,"rad":0.00055},{"wn":698.8,"rad":0.0004},{"wn":699.2,"rad":0.0006}
]},
"layer": [
 {"data": {"name": "spec"},
  "mark": {"type": "line", "interpolate": "step", "color": "black", "strokeWidth": 2.8, "strokeCap": "butt"},
  "encoding": {
   "x": {"field": "wn", "type": "quantitative", "scale": {"domain": [200, 700], "nice": false, "zero": false},
         "axis": {"orient": "bottom", "values": [200,300,400,500,600,700], "ticks": false, "labelFlush": false, "format": "d", "labelPadding": 24, "title": "Wavenumber cm-1", "titlePadding": 6}},
   "y": {"field": "rad", "type": "quantitative", "scale": {"domain": [-0.002, 0.010], "nice": false, "zero": false},
         "axis": {"orient": "left", "values": [-0.002,0,0.002,0.004,0.006,0.008,0.010], "ticks": false, "format": ".3f", "labelPadding": 9, "labelFlush": true, "labelOffset": 3, "title": "Radiance (W/m^2 sr-1 (cm-1)^-1)", "titlePadding": 16}}
  }},
 {"data": {"values": [{}]},
  "mark": {"type": "rule", "color": "#222", "strokeWidth": 1},
  "encoding": {
   "x": {"datum": 200, "type": "quantitative", "scale": {"domain": [200, 700], "nice": false, "zero": false},
         "axis": {"orient": "bottom", "values": [200,300,400,500,600,700], "labels": false, "tickSize": -14, "title": null}},
   "x2": {"datum": 700},
   "y": {"datum": 0, "type": "quantitative", "scale": {"domain": [-0.002, 0.010], "nice": false, "zero": false},
         "axis": {"orient": "left", "values": [-0.002,0,0.002,0.004,0.006,0.008,0.010], "labels": false, "tickSize": -20, "title": null}}
  }},
 {"data": {"values": [{}]},
  "mark": {"type": "rule", "color": "#222", "strokeWidth": 1, "strokeOpacity": 0},
  "encoding": {
   "x": {"datum": 200, "type": "quantitative", "scale": {"domain": [200, 700], "nice": false, "zero": false},
         "axis": {"orient": "bottom", "values": [210,220,230,240,250,260,270,280,290,310,320,330,340,350,360,370,380,390,410,420,430,440,450,460,470,480,490,510,520,530,540,550,560,570,580,590,610,620,630,640,650,660,670,680,690], "labels": false, "tickSize": -6, "title": null}},
   "x2": {"datum": 700},
   "y": {"datum": 0, "type": "quantitative", "scale": {"domain": [-0.002, 0.010], "nice": false, "zero": false},
         "axis": {"orient": "left", "values": [-0.0015,-0.001,-0.0005,0.0005,0.001,0.0015,0.0025,0.003,0.0035,0.0045,0.005,0.0055,0.0065,0.007,0.0075,0.0085,0.009,0.0095], "labels": false, "tickSize": -11, "title": null}}
  }},
 {"data": {"values": [{}]},
  "mark": {"type": "rule", "color": "#222", "strokeWidth": 1, "strokeOpacity": 0},
  "encoding": {
   "x": {"datum": 200, "type": "quantitative", "scale": {"domain": [200, 700], "nice": false, "zero": false},
         "axis": {"orient": "top", "values": [200,300,400,500,600,700], "labels": false, "tickSize": -14, "title": null}},
   "x2": {"datum": 700},
   "y": {"datum": 0, "type": "quantitative", "scale": {"domain": [-0.002, 0.010], "nice": false, "zero": false},
         "axis": {"orient": "right", "values": [-0.002,0,0.002,0.004,0.006,0.008,0.010], "labels": false, "tickSize": -20, "title": null}}
  }},
 {"data": {"values": [{}]},
  "mark": {"type": "rule", "color": "#222", "strokeWidth": 1, "strokeOpacity": 0},
  "encoding": {
   "x": {"datum": 200, "type": "quantitative", "scale": {"domain": [200, 700], "nice": false, "zero": false},
         "axis": {"orient": "top", "values": [210,220,230,240,250,260,270,280,290,310,320,330,340,350,360,370,380,390,410,420,430,440,450,460,470,480,490,510,520,530,540,550,560,570,580,590,610,620,630,640,650,660,670,680,690], "labels": false, "tickSize": -6, "title": null}},
   "x2": {"datum": 700},
   "y": {"datum": 0, "type": "quantitative", "scale": {"domain": [-0.002, 0.010], "nice": false, "zero": false},
         "axis": {"orient": "right", "values": [-0.0015,-0.001,-0.0005,0.0005,0.001,0.0015,0.0025,0.003,0.0035,0.0045,0.005,0.0055,0.0065,0.007,0.0075,0.0085,0.009,0.0095], "labels": false, "tickSize": -11, "title": null}}
  }}
],
"resolve": {"axis": {"x": "independent", "y": "independent"}}
}
